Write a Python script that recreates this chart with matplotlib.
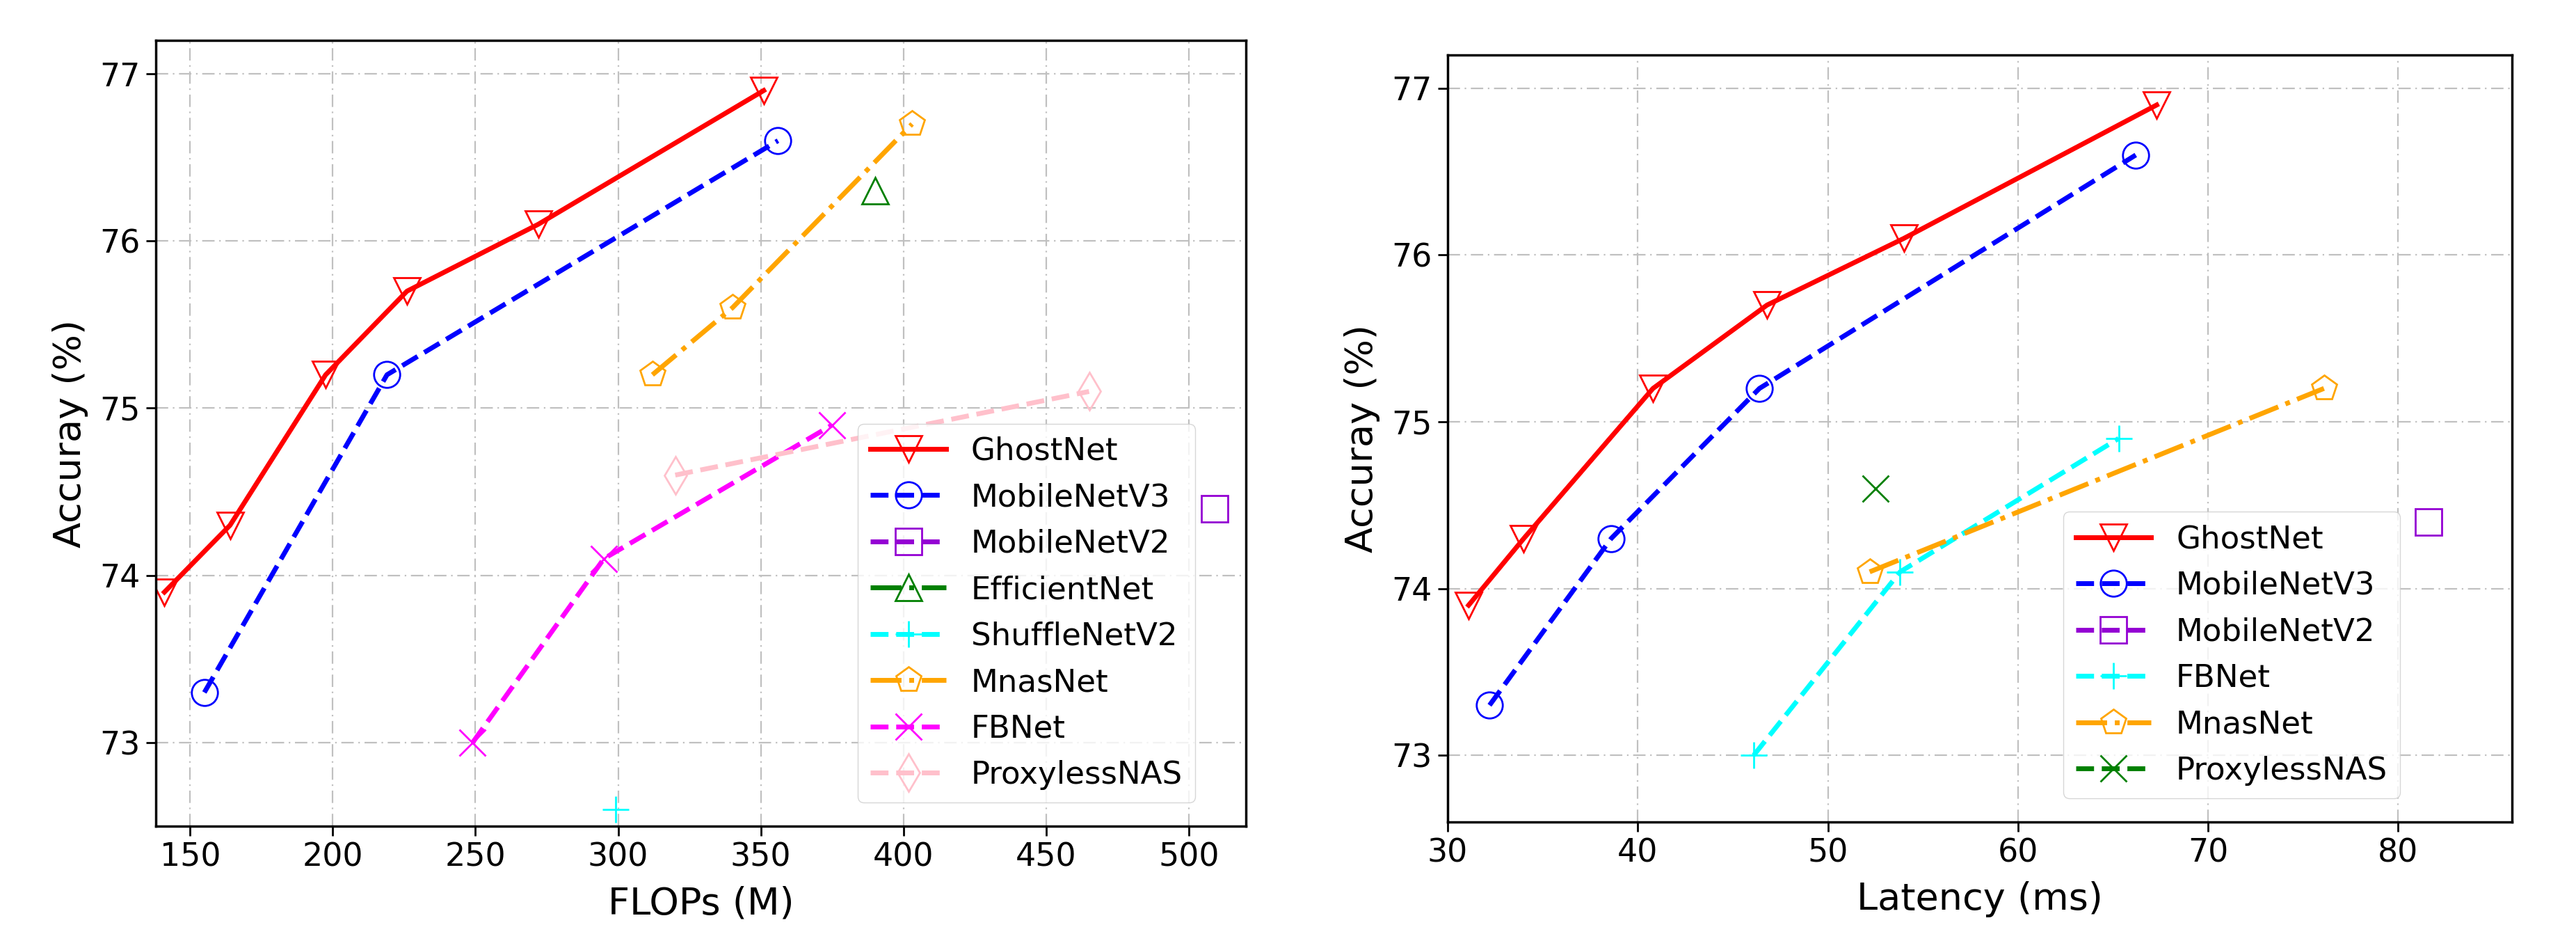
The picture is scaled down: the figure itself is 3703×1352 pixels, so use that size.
import matplotlib
matplotlib.use("Agg")
import matplotlib.pyplot as plt

# ---------------- data ----------------
acc_ghost = [73.9, 74.3, 75.2, 75.7, 76.1, 76.9]

# left: FLOPs
flops_ghost = [141, 164, 197.5, 226, 272, 351]
flops_mbv3 = [155, 219, 356]
acc_mbv3_l = [73.3, 75.2, 76.6]
flops_mbv2 = [509]
acc_mbv2 = [74.4]
flops_eff = [390]
acc_eff = [76.3]
flops_shuffle = [299]
acc_shuffle = [72.6]
flops_mnas = [312, 340, 403]
acc_mnas_l = [75.2, 75.6, 76.7]
flops_fbnet = [249, 295, 375]
acc_fbnet = [73.0, 74.1, 74.9]
flops_proxyless = [320, 465]
acc_proxyless_l = [74.6, 75.1]

# right: latency
lat_ghost = [31.1, 34.0, 40.8, 46.8, 54.0, 67.3]
lat_mbv3 = [32.2, 38.6, 46.4, 66.2]
acc_mbv3_r = [73.3, 74.3, 75.2, 76.6]
lat_mbv2 = [81.6]
lat_fbnet = [46.1, 53.8, 65.3]
lat_mnas = [52.2, 76.1]
acc_mnas_r = [74.1, 75.2]
lat_proxyless = [52.5]
acc_proxyless_r = [74.6]

flops_ticks = [150, 200, 250, 300, 350, 400, 450, 500]
lat_ticks = [30, 40, 50, 60, 70, 80]
acc_ticks = [73, 74, 75, 76, 77]

# ---------------- style ----------------
plt.rcParams['font.family'] = ['DejaVu Sans']
LW = 5
MS = 27
MEW = 2

fig = plt.figure(figsize=(37.03, 13.52), dpi=100)
axL = fig.add_axes([0.0605, 0.1220, 0.4232, 0.8351])
axR = fig.add_axes([0.5620, 0.1265, 0.4132, 0.8151])


def series(ax, x, y, color, ls, marker, label):
    ax.plot(x, y, color=color, linestyle=ls, linewidth=LW, marker=marker,
            markersize=MS, markerfacecolor='none', markeredgecolor=color,
            markeredgewidth=MEW, label=label)


series(axL, flops_ghost, acc_ghost, 'red', '-', 'v', 'GhostNet')
series(axL, flops_mbv3, acc_mbv3_l, 'blue', '--', 'o', 'MobileNetV3')
series(axL, flops_mbv2, acc_mbv2, 'darkviolet', '--', 's', 'MobileNetV2')
series(axL, flops_eff, acc_eff, 'green', '-.', '^', 'EfficientNet')
series(axL, flops_shuffle, acc_shuffle, 'cyan', '--', '+', 'ShuffleNetV2')
series(axL, flops_mnas, acc_mnas_l, 'orange', '-.', 'p', 'MnasNet')
series(axL, flops_fbnet, acc_fbnet, 'magenta', '--', 'x', 'FBNet')
series(axL, flops_proxyless, acc_proxyless_l, 'pink', '--', 'd', 'ProxylessNAS')

series(axR, lat_ghost, acc_ghost, 'red', '-', 'v', 'GhostNet')
series(axR, lat_mbv3, acc_mbv3_r, 'blue', '--', 'o', 'MobileNetV3')
series(axR, lat_mbv2, acc_mbv2, 'darkviolet', '--', 's', 'MobileNetV2')
series(axR, lat_fbnet, acc_fbnet, 'cyan', '--', '+', 'FBNet')
series(axR, lat_mnas, acc_mnas_r, 'orange', '-.', 'p', 'MnasNet')
series(axR, lat_proxyless, acc_proxyless_r, 'green', '--', 'x', 'ProxylessNAS')

for ax in (axL, axR):
    ax.grid(True, color='#c0c0c0', linestyle=(0, (8, 3, 1, 3)), linewidth=1.6)
    ax.set_axisbelow(True)
    ax.set_yticks(acc_ticks)
    ax.tick_params(axis='both', labelsize=33, length=10, width=2, pad=6)
    ax.set_ylabel('Accuray (%)', fontsize=39, labelpad=12)
    for sp in ax.spines.values():
        sp.set_linewidth(2.5)

axL.set_xticks(flops_ticks)
axL.set_xlim(138, 520)
axL.set_ylim(72.5, 77.2)
axL.set_xlabel('FLOPs (M)', fontsize=39, labelpad=13)

axR.set_xticks(lat_ticks)
axR.set_xlim(30, 86)
axR.set_ylim(72.6, 77.2)
axR.set_xlabel('Latency (ms)', fontsize=39, labelpad=13)

legend_kw = dict(loc='lower right', borderaxespad=0, fontsize=32.5,
                 labelspacing=0.52, handlelength=2.4, handletextpad=0.8)
axL.legend(bbox_to_anchor=(0.9534, 0.0301), **legend_kw)
axR.legend(bbox_to_anchor=(0.8948, 0.0309), **legend_kw)

fig.savefig('out.png', dpi=100)
